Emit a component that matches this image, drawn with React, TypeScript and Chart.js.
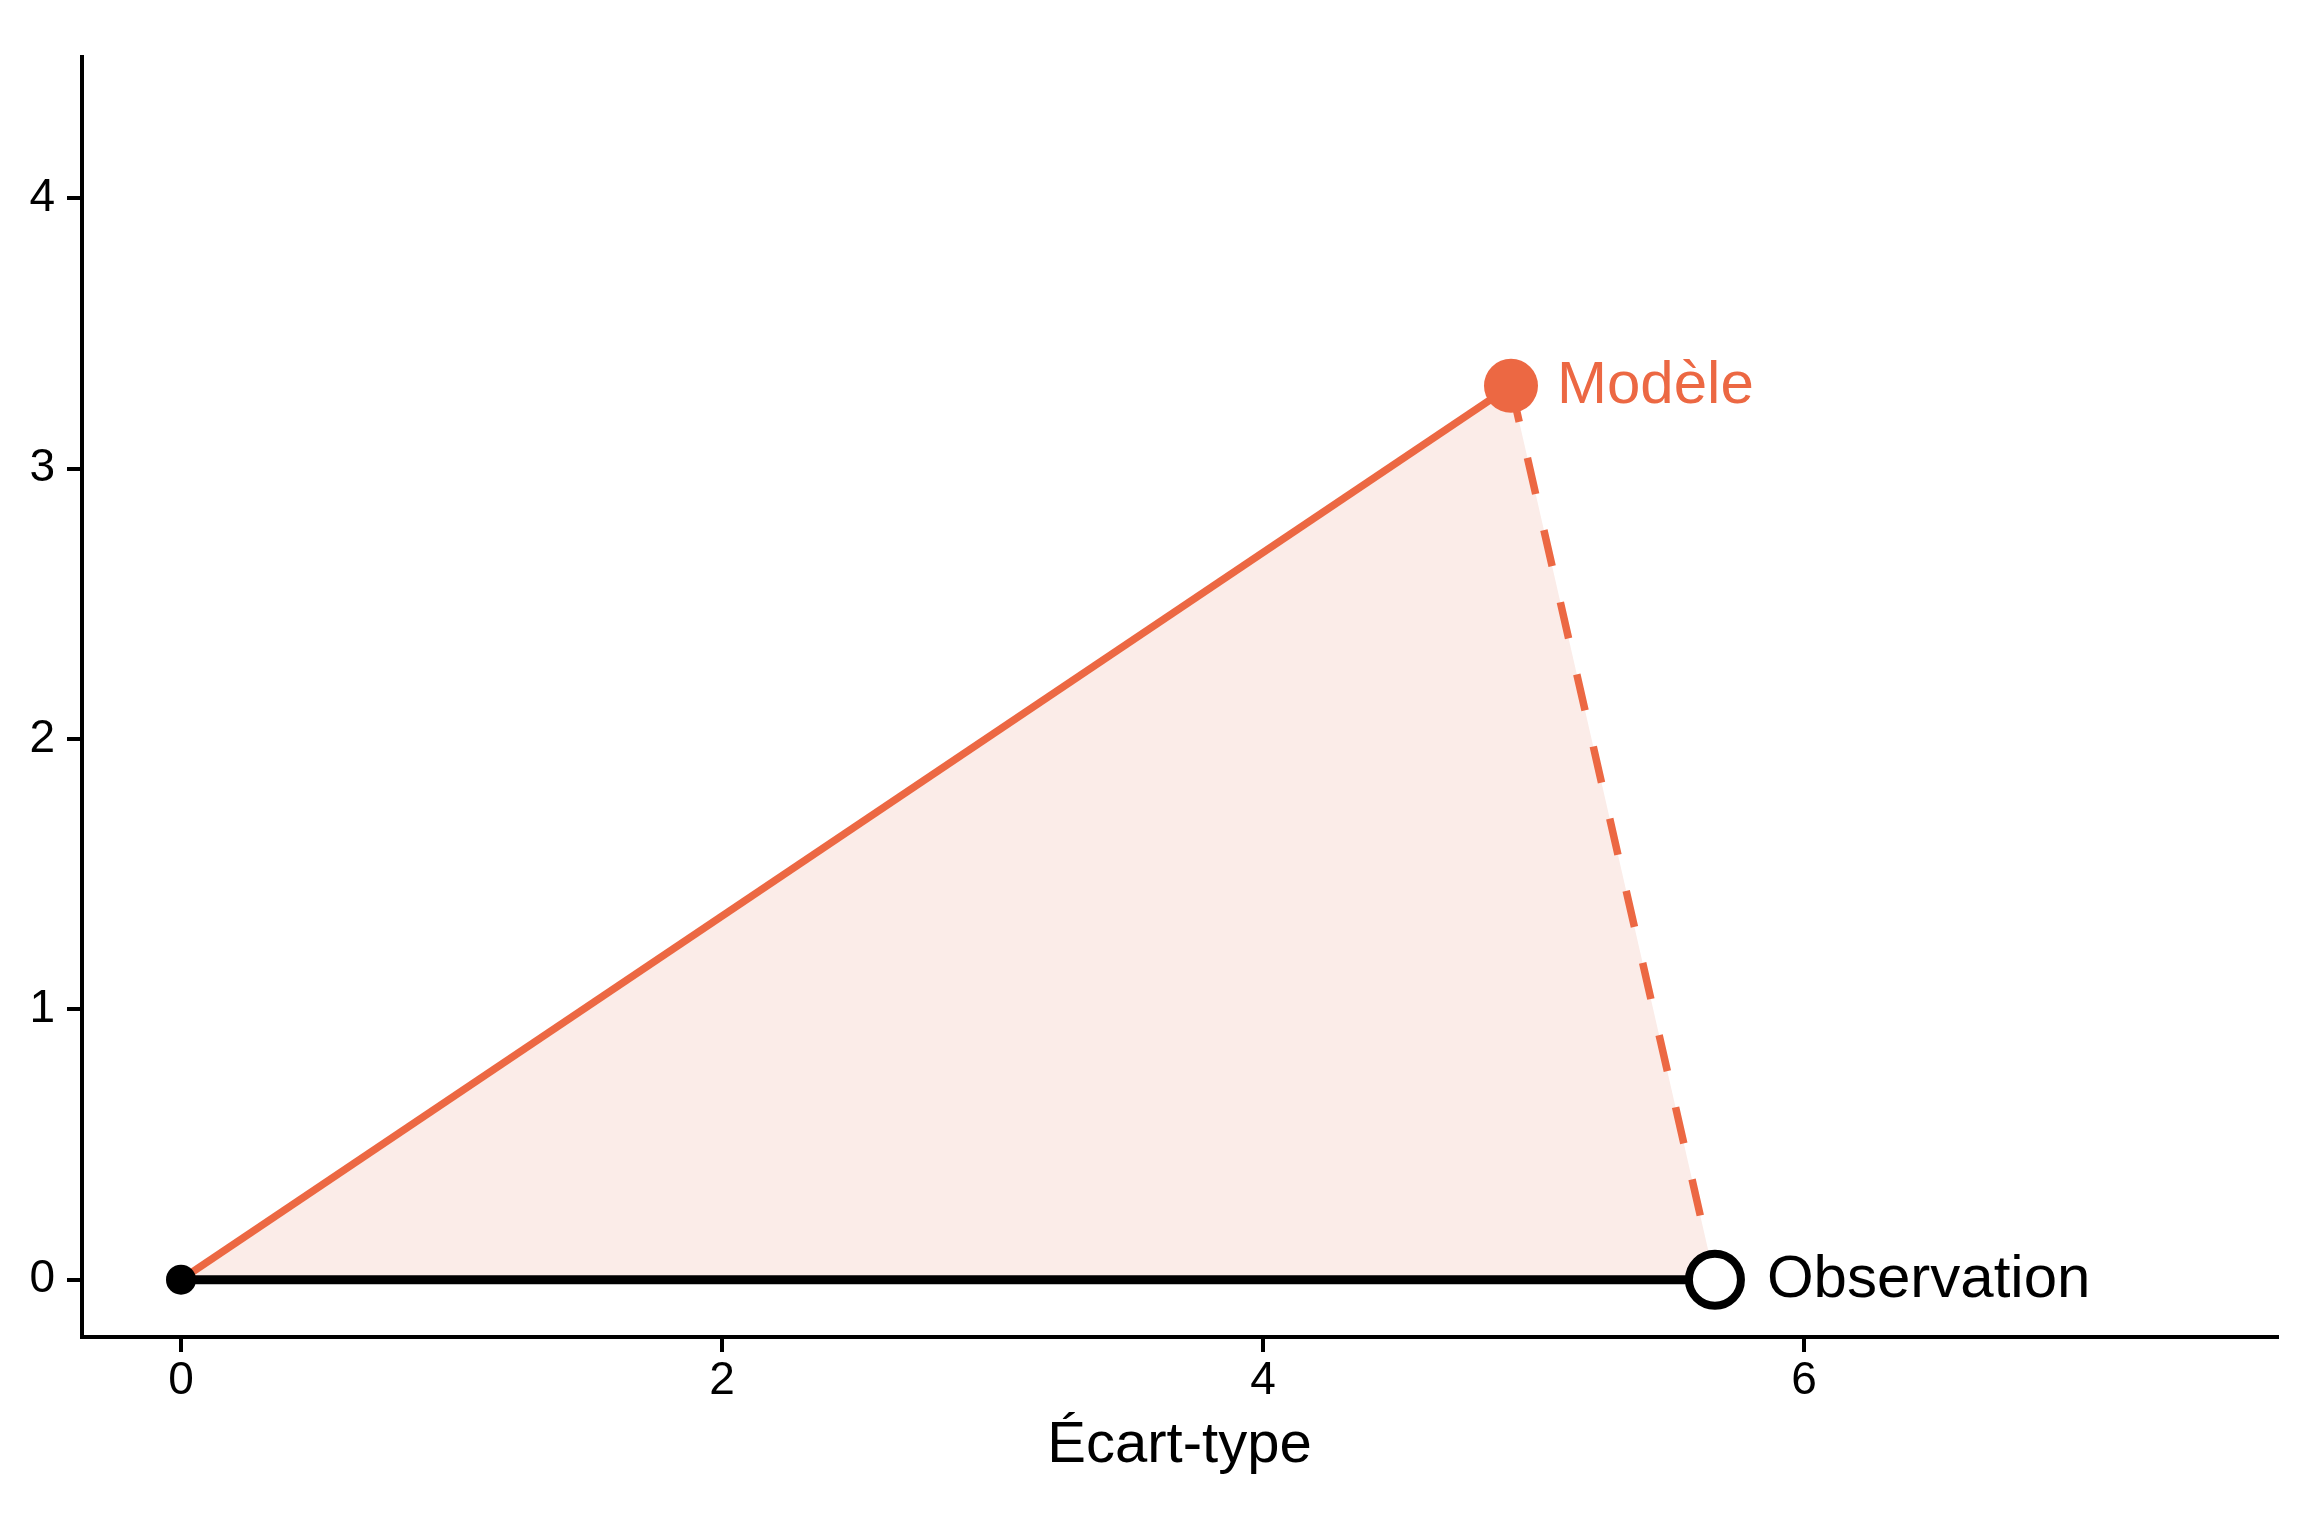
import { useEffect, useRef } from 'react';
import { Chart, registerables } from 'chart.js';

Chart.register(...registerables);

// values
const ORIGIN_X = 0;
const ORIGIN_Y = 0;
const POINT_NAMES = ['Modèle', 'Observation'];
const POINT_X = [4.917, 5.671];
const POINT_Y = [3.306, 0];
const X_TICKS = [0, 2, 4, 6];
const Y_TICKS = [0, 1, 2, 3, 4];
const X_TITLE = 'Écart-type';

const ORANGE = '#EC6843';
const FILL = '#FBECE8';
const FONT = 'Liberation Sans, Arial, Helvetica, sans-serif';

// point labels drawn to the right of each marker
const pointLabels = {
  id: 'pointLabels',
  afterDatasetsDraw(chart: Chart) {
    const { ctx, scales } = chart;
    ctx.save();
    ctx.font = `60px ${FONT}`;
    ctx.textAlign = 'left';
    ctx.textBaseline = 'middle';
    POINT_NAMES.forEach((name, i) => {
      ctx.fillStyle = i === 0 ? ORANGE : '#000';
      const px = scales.x.getPixelForValue(POINT_X[i]);
      const py = scales.y.getPixelForValue(POINT_Y[i]);
      ctx.fillText(name, px + (i === 0 ? 46 : 52), py + 1);
    });
    ctx.restore();
  },
};

export default function App() {
  const ref = useRef<HTMLCanvasElement>(null);
  const chart = useRef<Chart | null>(null);

  useEffect(() => {
    document.body.style.margin = '0';
    if (!ref.current) return;
    const ctx = ref.current.getContext('2d')!;

    const origin = { x: ORIGIN_X, y: ORIGIN_Y };
    const model = { x: POINT_X[0], y: POINT_Y[0] };
    const obs = { x: POINT_X[1], y: POINT_Y[1] };

    const axisGrid = {
      drawOnChartArea: false,
      drawTicks: true,
      tickLength: 15,
      tickWidth: 4,
      tickColor: '#000',
      color: '#000',
      lineWidth: 4,
    };

    chart.current?.destroy();
    chart.current = new Chart(ctx, {
      type: 'scatter',
      data: {
        datasets: [
          // markers (on top)
          {
            data: [origin],
            pointRadius: 15,
            pointBackgroundColor: '#000',
            pointBorderWidth: 0,
            showLine: false,
            order: 0,
          },
          {
            data: [model],
            pointRadius: 27,
            pointBackgroundColor: ORANGE,
            pointBorderWidth: 0,
            showLine: false,
            order: 0,
          },
          {
            data: [obs],
            pointRadius: 26,
            pointBackgroundColor: '#fff',
            pointBorderColor: '#000',
            pointBorderWidth: 8,
            showLine: false,
            order: 0,
          },
          // segments
          {
            data: [origin, obs],
            showLine: true,
            borderColor: '#000',
            borderWidth: 9,
            pointRadius: 0,
            order: 1,
          },
          {
            data: [origin, model],
            showLine: true,
            borderColor: ORANGE,
            borderWidth: 7.5,
            pointRadius: 0,
            order: 1,
          },
          {
            data: [model, obs],
            showLine: true,
            borderColor: ORANGE,
            borderWidth: 7.5,
            borderDash: [37, 37],
            pointRadius: 0,
            order: 1,
          },
          // shaded triangle
          {
            data: [origin, model, obs],
            showLine: true,
            borderWidth: 0,
            borderColor: 'rgba(0,0,0,0)',
            backgroundColor: FILL,
            fill: 'origin',
            pointRadius: 0,
            order: 2,
          },
        ],
      },
      options: {
        responsive: false,
        animation: false,
        events: [],
        layout: { autoPadding: false, padding: { top: 57, right: 27, left: 0, bottom: 0 } },
        plugins: {
          legend: { display: false },
          tooltip: { enabled: false },
        },
        scales: {
          x: {
            type: 'linear',
            min: -0.366,
            max: 7.749,
            afterFit: (s: any) => {
              s.height = 199;
              s.paddingLeft = 0;
              s.paddingRight = 0;
            },
            afterBuildTicks: (s: any) => { s.ticks = X_TICKS.map((value) => ({ value })); },
            grid: axisGrid,
            border: { display: true, color: '#000', width: 4 },
            ticks: {
              color: '#000',
              font: { family: FONT, size: 46 },
              padding: 2,
              autoSkip: false,
              maxRotation: 0,
              callback: (v: any) => String(v),
            },
            title: {
              display: true,
              text: X_TITLE,
              color: '#000',
              font: { family: FONT, size: 58 },
              padding: { top: 0, bottom: 55 },
            },
          },
          y: {
            type: 'linear',
            min: -0.212,
            max: 4.522,
            afterFit: (s: any) => {
              s.width = 82;
              s.paddingTop = 0;
              s.paddingBottom = 0;
            },
            afterBuildTicks: (s: any) => { s.ticks = Y_TICKS.map((value) => ({ value })); },
            grid: axisGrid,
            border: { display: true, color: '#000', width: 4 },
            ticks: {
              color: '#000',
              font: { family: FONT, size: 46 },
              padding: 12,
              autoSkip: false,
              callback: (v: any) => String(v),
            },
          },
        },
      },
      plugins: [pointLabels],
    });

    return () => { chart.current?.destroy(); };
  }, []);

  return (
    <div style={{ width: 2304, height: 1536, background: '#fff' }}>
      <canvas ref={ref} width={2304} height={1536} style={{ width: 2304, height: 1536, display: 'block' }} />
    </div>
  );
}
